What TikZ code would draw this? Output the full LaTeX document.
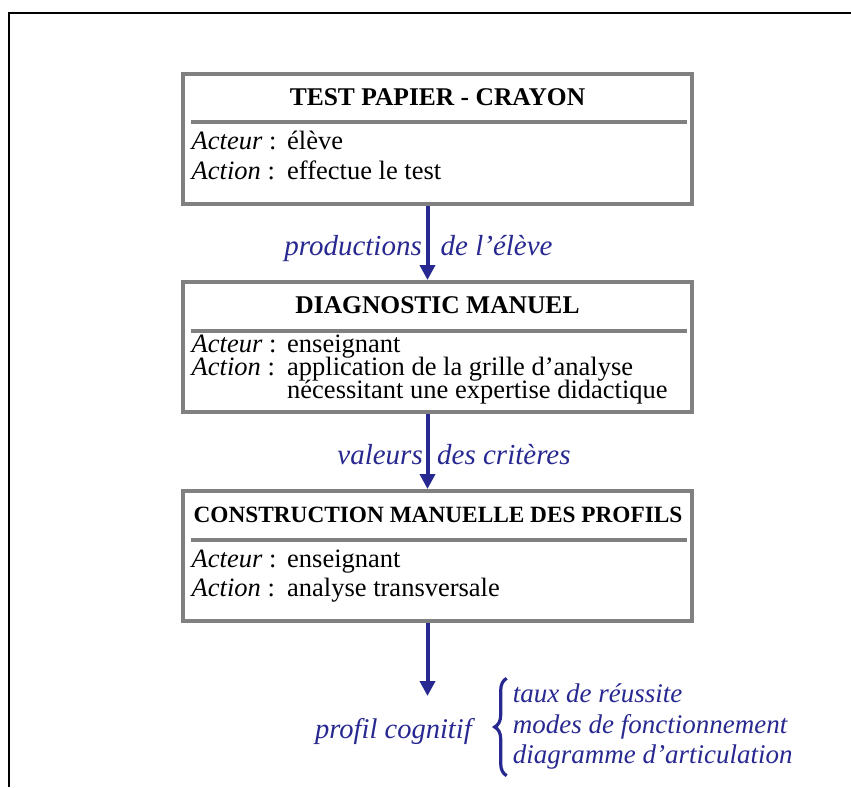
\documentclass[tikz,border=0pt]{standalone}
\usepackage{fontspec}
\setmainfont{Liberation Serif}
\usetikzlibrary{arrows.meta,decorations.pathreplacing}
\definecolor{flowblue}{RGB}{40,40,145}
\definecolor{boxgray}{RGB}{128,128,128}
\tikzset{
  stage/.style={draw=boxgray, line width=4pt, minimum width=509pt, minimum height=130pt, inner sep=0},
  stagetitle/.style={anchor=base, inner sep=0, font=\fontsize{25.5}{30}\selectfont\bfseries},
  stagetext/.style={anchor=base west, inner sep=0, text height=17pt, text depth=5pt,
    font=\fontsize{26.5}{30}\selectfont},
  rule/.style={draw=boxgray, line width=3.5pt},
  flow/.style={draw=flowblue, line width=4pt, -{Triangle[length=15pt,width=15pt]}},
  flowlabel/.style={text=flowblue, inner sep=0, font=\fontsize{29}{32}\selectfont\itshape},
}
\begin{document}
\begin{tikzpicture}[x=1pt, y=-1pt]
  \useasboundingbox (0,0) rectangle (851,787);
  % FRAME
  \draw[line width=2.5pt] (9,787) -- (9,13) -- (851,13);
  % FIRST STAGE
  % -- box
  \node[stage] (test) at (437.5,138.5) {};
  \node[stagetitle] (testtitle) at (437.5,105) {TEST PAPIER - CRAYON};
  \draw[rule] (191,122) -- (687,122);
  % -- actor / action
  \node[stagetext] (testactor) at (191.5,149.5) {\textit{Acteur} :};
  \node[stagetext] (testactorval) at (287,149.5) {élève};
  \node[stagetext] (testaction) at (191.5,179.5) {\textit{Action} :};
  \node[stagetext] (testactionval) at (287,179.5) {effectue le test};
  % SECOND STAGE
  % -- box
  \node[stage] (diag) at (437.5,347) {};
  \node[stagetitle] (diagtitle) at (437.5,313.3) {DIAGNOSTIC MANUEL};
  \draw[rule] (191,331) -- (687,331);
  % -- actor / action
  \node[stagetext] (diagactor) at (191.5,352) {\textit{Acteur} :};
  \node[stagetext] (diagactorval) at (287,352) {enseignant};
  \node[stagetext] (diagaction) at (191.5,375.5) {\textit{Action} :};
  \node[stagetext] (diagactionval) at (287,375.5) {application de la grille d’analyse};
  \node[stagetext] (diagactionmore) at (287,398.5) {nécessitant une expertise didactique};
  % THIRD STAGE
  % -- box
  \node[stage] (constr) at (437.5,556) {};
  \node[stagetitle, font=\fontsize{23.3}{28}\selectfont\bfseries] (constrtitle) at (438,522.3)
    {CONSTRUCTION MANUELLE DES PROFILS};
  \draw[rule] (191,540) -- (687,540);
  % -- actor / action
  \node[stagetext] (constractor) at (191.5,567.3) {\textit{Acteur} :};
  \node[stagetext] (constractorval) at (287,567.3) {enseignant};
  \node[stagetext] (constraction) at (191.5,596.7) {\textit{Action} :};
  \node[stagetext] (constractionval) at (287,596.7) {analyse transversale};
  % FLOWS
  % -- test -> diagnostic
  \draw[flow] ([xshift=-10pt]test.south) -- ([xshift=-10pt]diag.north);
  \node[flowlabel, anchor=base east] (prodleft) at (422,255) {productions};
  \node[flowlabel, anchor=base west] (prodright) at (440.5,255) {de l’élève};
  % -- diagnostic -> construction
  \draw[flow] ([xshift=-10pt]diag.south) -- ([xshift=-10pt]constr.north);
  \node[flowlabel, anchor=base east] (critleft) at (423,464) {valeurs};
  \node[flowlabel, anchor=base west] (critright) at (437,464) {des critères};
  % -- construction -> profile
  \coordinate (profilend) at (427.5,696);
  \draw[flow] ([xshift=-10pt]constr.south) -- (profilend);
  % PROFILE
  \node[flowlabel, anchor=base west, font=\fontsize{28.5}{32}\selectfont\itshape] (profil) at (315,738.3)
    {profil cognitif};
  \node[flowlabel, anchor=west, font=\fontsize{27}{30.3}\selectfont\itshape] (profillist) at (512.7,727)
    {\begin{tabular}{@{}l@{}}taux de réussite\\ modes de fonctionnement\\ diagramme d’articulation\end{tabular}};
  \draw[draw=flowblue, line width=3.2pt, decorate, decoration={brace, amplitude=12pt}]
    ([xshift=-6pt,yshift=-3pt]profillist.south west) -- ([xshift=-6pt,yshift=3pt]profillist.north west);
\end{tikzpicture}
\end{document}
